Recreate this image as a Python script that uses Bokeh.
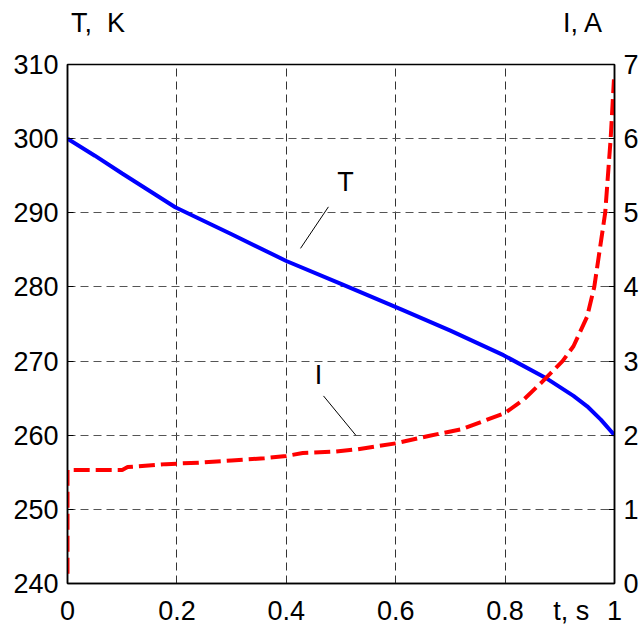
from bokeh.plotting import figure
from bokeh.models import Range1d, LinearAxis, FixedTicker, Label
from bokeh.embed import file_html
from bokeh.resources import INLINE

# ---- data ----
t_T = [0.0, 0.05, 0.10, 0.197, 0.30, 0.40, 0.50, 0.609, 0.70, 0.797, 0.877, 0.925, 0.95, 0.975, 1.0]
T_vals = [300.0, 297.7, 295.3, 290.75, 287.1, 283.5, 280.4, 277.0, 274.1, 270.8, 267.6, 265.3, 263.9, 262.1, 260.0]

t_I = [0.0, 0.0, 0.10, 0.11, 0.18, 0.24, 0.30, 0.36, 0.40, 0.43, 0.49, 0.53, 0.60, 0.66, 0.72,
       0.76, 0.80, 0.834, 0.865, 0.905, 0.925, 0.95, 0.963, 0.983, 0.993, 0.999]
I_vals = [0.13, 1.53, 1.53, 1.57, 1.61, 1.63, 1.66, 1.69, 1.72, 1.76, 1.78, 1.81, 1.89, 1.99, 2.08,
          2.19, 2.30, 2.48, 2.70, 3.00, 3.20, 3.60, 4.00, 5.00, 6.00, 6.80]

x_ticks = [0, 0.2, 0.4, 0.6, 0.8, 1]
x_tick_labels = ["0", "0.2", "0.4", "0.6", "0.8", "1"]
T_ticks = [240, 250, 260, 270, 280, 290, 300, 310]
I_ticks = [0, 1, 2, 3, 4, 5, 6, 7]

# curve name annotations and leader lines (data units, left axis)
curve_names = ["T", "I"]
name_x = [0.508, 0.459]
name_y = [294.2, 268.1]
leader_x0 = [0.477, 0.468]
leader_y0 = [290.8, 265.3]
leader_x1 = [0.426, 0.527]
leader_y1 = [285.2, 260.0]

# axis titles and where they sit along t
top_titles = ["T, \u00a0K", "I, A"]
top_title_t = [0.0558, 0.943]
bottom_title = "t, s"
bottom_title_t = 0.921

FONT = "Liberation Sans"
FS = "27px"

p = figure(width=641, height=628, output_backend="svg", toolbar_location=None,
           x_range=Range1d(0, 1), y_range=Range1d(240, 310),
           min_border_left=67, min_border_right=27, min_border_top=64, min_border_bottom=43)
p.extra_y_ranges = {"I": Range1d(0, 7)}
p.background_fill_color = "white"
p.border_fill_color = "white"
p.outline_line_color = "black"
p.outline_line_width = 1.5
p.outline_line_alpha = 1.0

bottom = p.below[0]
left = p.left[0]

right = LinearAxis(y_range_name="I")
p.add_layout(right, "right")

top = LinearAxis()
p.add_layout(top, "above")

bx_ticks = x_ticks + [bottom_title_t]
bx_labels = dict(zip(x_ticks, x_tick_labels))
bx_labels[bottom_title_t] = bottom_title
bottom.ticker = FixedTicker(ticks=bx_ticks)
bottom.major_label_overrides = bx_labels
p.xgrid.ticker = FixedTicker(ticks=x_ticks)

top.ticker = FixedTicker(ticks=top_title_t)
top.major_label_overrides = dict(zip(top_title_t, top_titles))

left.ticker = FixedTicker(ticks=T_ticks)
right.ticker = FixedTicker(ticks=I_ticks)

for ax in [bottom, left, right, top]:
    ax.major_label_text_font = FONT
    ax.major_label_text_font_size = FS
    ax.major_label_text_color = "black"
    ax.major_tick_in = 6
    ax.major_tick_out = 0
    ax.major_tick_line_color = "black"
    ax.minor_tick_line_color = None
    ax.axis_line_color = "black"
    ax.axis_line_width = 1.5
bottom.major_tick_line_color = None
top.major_tick_line_color = None
top.axis_line_color = None
top.major_label_standoff = 27
bottom.major_label_standoff = 12
left.major_label_standoff = 9
right.major_label_standoff = 9

p.xgrid.grid_line_color = "#333333"
p.xgrid.grid_line_dash = "8 5"
p.xgrid.grid_line_width = 1
p.ygrid.grid_line_color = "#555555"
p.ygrid.grid_line_dash = "8 5"
p.ygrid.grid_line_width = 1

p.line(t_T, T_vals, line_color="#0000ff", line_width=4)
p.line(t_I, I_vals, y_range_name="I", line_color="#ff0000", line_width=4, line_dash="16 6")

p.segment(x0=leader_x0, y0=leader_y0, x1=leader_x1, y1=leader_y1, line_color="black", line_width=1)
for txt, xx, yy in zip(curve_names, name_x, name_y):
    p.add_layout(Label(x=xx, y=yy, text=txt, text_font=FONT, text_font_size=FS,
                       text_align="center", text_baseline="middle", text_color="black"))

open("out.html", "w").write(file_html(p, INLINE))
